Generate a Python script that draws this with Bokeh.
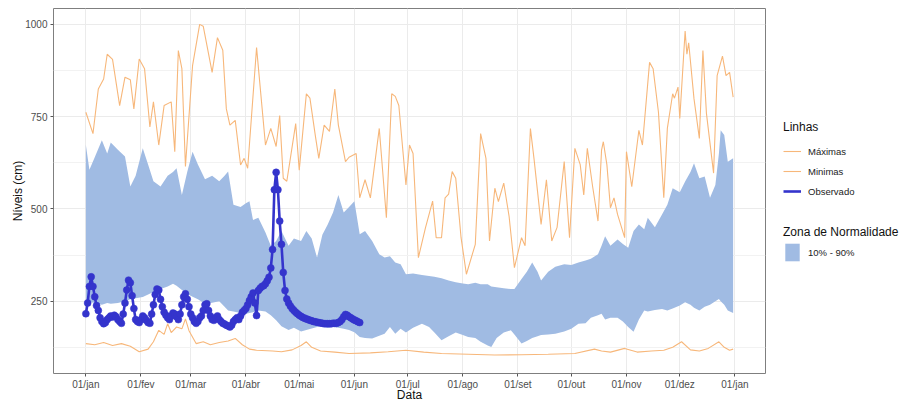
from bokeh.plotting import figure
from bokeh.models import Range1d, FixedTicker, Legend, LegendItem
from bokeh.layouts import row
from bokeh.embed import file_html
from bokeh.resources import INLINE

# ---- axis ticks / labels ----
month_days = [0, 31, 59, 90, 120, 151, 181, 212, 243, 273, 304, 334, 365]
month_labels = ["01/jan", "01/fev", "01/mar", "01/abr", "01/mai", "01/jun",
                "01/jul", "01/ago", "01/set", "01/out", "01/nov", "01/dez", "01/jan"]
y_ticks = [250, 500, 750, 1000]
y_minor = [125, 375, 625, 875]

# ---- normality zone (10% - 90%) ----
band_days = [0, 2, 5, 9, 12, 14, 18, 22, 25, 28,
             32, 35, 38, 42, 46, 49, 51, 54, 57, 60,
             63, 67, 71, 75, 78, 80, 83, 87, 90, 92,
             94, 97, 101, 104, 107, 110, 114, 117, 121, 124,
             127, 130, 133, 136, 139, 142, 145, 148, 151, 154,
             157, 161, 165, 168, 171, 174, 177, 180, 184, 189,
             193, 196, 200, 204, 208, 212, 215, 219, 222, 226,
             228, 231, 235, 239, 241, 245, 248, 251, 254, 256,
             260, 264, 269, 273, 277, 281, 284, 288, 290, 292,
             295, 299, 302, 305, 308, 311, 314, 316, 320, 324,
             327, 330, 334, 337, 340, 342, 345, 348, 351, 354,
             356, 357, 359, 361, 364]
band_hi = [673, 606, 640, 686, 650, 680, 660, 642, 561, 590,
           664, 620, 575, 561, 590, 600, 610, 538, 600, 655,
           620, 580, 590, 575, 590, 601, 511, 505, 515, 521,
           470, 476, 436, 400, 413, 440, 400, 420, 413, 440,
           420, 368, 430, 458, 490, 538, 490, 505, 521, 431,
           440, 413, 377, 368, 372, 355, 350, 323, 325, 321,
           318, 316, 312, 306, 301, 298, 296, 300, 296, 296,
           290, 288, 285, 283, 283, 310, 330, 355, 330, 306,
           330, 343, 350, 348, 355, 360, 365, 377, 400, 426,
           400, 417, 405, 395, 440, 458, 445, 476, 450, 485,
           511, 556, 545, 574, 600, 624, 583, 588, 530, 565,
           650, 713, 700, 628, 637]
band_lo = [250, 248, 245, 240, 245, 243, 245, 250, 255, 258,
           261, 268, 275, 283, 290, 297, 292, 280, 270, 262,
           255, 243, 246, 250, 235, 225, 222, 218, 216, 218,
           220, 225, 222, 212, 198, 182, 172, 178, 168, 172,
           176, 180, 183, 178, 180, 178, 175, 172, 166, 153,
           150, 149, 156, 162, 180, 162, 175, 165, 178, 189,
           180, 165, 144, 155, 165, 158, 153, 150, 140, 130,
           126, 150, 165, 171, 160, 135, 142, 150, 155, 158,
           160, 162, 168, 175, 189, 190, 205, 212, 216, 200,
           205, 205, 195, 180, 167, 200, 225, 222, 226, 229,
           225, 230, 238, 247, 240, 232, 225, 235, 240, 250,
           256, 250, 240, 225, 218]

# ---- historical maxima ----
max_days = [0, 4, 7, 10, 12, 15, 19, 22, 25, 27, 30, 33, 36, 38, 41, 44, 48, 50, 52, 54,
            56, 60, 64, 66, 71, 74, 77, 79, 81, 84, 87, 89, 91, 96, 101, 104, 107, 109, 111, 113,
            115, 118, 120, 124, 126, 129, 131, 134, 137, 140, 142, 146, 148, 152, 154, 157, 160, 165, 169, 172,
            174, 176, 180, 182, 184, 187, 191, 195, 197, 200, 202, 204, 206, 208, 211, 214, 219, 222, 225, 227,
            230, 232, 235, 238, 241, 245, 247, 250, 252, 256, 259, 262, 265, 269, 272, 275, 278, 280, 282, 285,
            288, 290, 291, 293, 295, 297, 299, 303, 304, 307, 311, 313, 317, 319, 322, 325, 327, 330, 331, 333,
            334, 337, 338, 339, 342, 345, 347, 349, 353, 355, 358, 360, 362, 364]
max_vals = [762, 704, 825, 852, 919, 905, 780, 857, 850, 771, 906, 880, 722, 790, 673, 780, 790, 655, 929, 880,
            615, 888, 1000, 995, 870, 964, 930, 771, 727, 740, 619, 637, 610, 937, 673, 718, 669, 753, 583, 575,
            637, 731, 605, 812, 800, 700, 637, 727, 710, 825, 727, 628, 640, 650, 530, 579, 530, 718, 476, 812,
            805, 780, 565, 673, 650, 368, 449, 521, 422, 422, 530, 540, 601, 583, 422, 323, 404, 704, 637, 413,
            556, 520, 570, 480, 341, 422, 400, 718, 637, 458, 579, 413, 450, 628, 422, 664, 620, 538, 664, 560,
            467, 659, 682, 620, 503, 530, 485, 422, 655, 560, 713, 673, 897, 880, 762, 530, 718, 812, 800, 830,
            745, 982, 919, 950, 798, 691, 929, 758, 597, 861, 914, 861, 870, 803]

# ---- historical minima ----
min_days = [0, 5, 10, 15, 20, 25, 30, 35, 38, 41, 44, 46, 48, 51, 54, 56, 58, 62, 66, 70,
            75, 80, 84, 88, 92, 96, 105, 110, 116, 121, 124, 127, 132, 140, 148, 160, 170, 180, 190, 200,
            215, 230, 245, 260, 275, 286, 290, 295, 303, 310, 318, 325, 330, 335, 340, 345, 350, 356, 359, 362,
            364]
min_vals = [135, 132, 138, 130, 135, 128, 113, 120, 140, 171, 160, 189, 165, 180, 175, 202, 170, 135, 140, 132,
            138, 142, 149, 132, 120, 117, 115, 113, 118, 130, 140, 125, 115, 112, 108, 110, 113, 117, 112, 108,
            106, 104, 105, 106, 108, 120, 115, 112, 122, 112, 115, 117, 125, 140, 118, 115, 122, 140, 125, 117,
            120]

# ---- observed (daily, from 01/jan) ----
obs_vals = [216, 245, 290, 316, 290, 262, 238, 225, 205, 195,
            189, 192, 200, 205, 210, 207, 212, 208, 200, 195,
            190, 215, 245, 280, 307, 300, 265, 230, 200, 195,
            192, 200, 210, 205, 198, 192, 190, 215, 240, 268,
            283, 280, 255, 235, 220, 212, 205, 200, 210, 218,
            215, 208, 200, 215, 240, 262, 270, 255, 235, 215,
            205, 195, 190, 195, 205, 210, 225, 240, 243, 225,
            210, 200, 198, 205, 210, 200, 195, 190, 188, 185,
            183, 180, 185, 195, 200, 205, 200, 210, 220, 225,
            230, 240, 252, 262, 272, 245, 211, 279, 285, 290,
            292, 297, 305, 315, 340, 390, 552, 599, 552, 467,
            404, 328, 279, 256, 245, 237, 230, 225, 220, 216,
            212, 209, 206, 204, 202, 200, 198, 197, 195, 194,
            193, 192, 191, 190, 189, 189, 189, 189, 189, 190,
            190, 190, 192, 195, 200, 208, 214, 212, 208, 205,
            202, 199, 197, 194, 192]
obs_days = list(range(len(obs_vals)))

# ---- styles ----
FONT = "Liberation Sans"
BAND = "#A0BBE3"
ORANGE = "#F7B77A"
BLUE = "#3434CC"

p = figure(width=768, height=404, output_backend="svg", toolbar_location=None,
           x_range=Range1d(-18.2, 382.2), y_range=Range1d(54, 1043),
           min_border_left=53, min_border_right=3, min_border_top=8, min_border_bottom=0)
p.background_fill_color = "white"
p.border_fill_color = "white"
p.outline_line_color = "#7F7F7F"
p.outline_line_width = 1

p.varea(x=band_days, y1=band_lo, y2=band_hi, fill_color=BAND, fill_alpha=1)
p.line(max_days, max_vals, line_color=ORANGE, line_width=1.1)
p.line(min_days, min_vals, line_color=ORANGE, line_width=1.1)
p.line(obs_days, obs_vals, line_color=BLUE, line_width=2.6)
p.scatter(obs_days, obs_vals, size=7, fill_color=BLUE, line_color=BLUE, line_width=0.5)

p.xaxis.ticker = FixedTicker(ticks=month_days, minor_ticks=[])
p.xaxis.major_label_overrides = {d: l for d, l in zip(month_days, month_labels)}
p.yaxis.ticker = FixedTicker(ticks=y_ticks, minor_ticks=y_minor)

for ax in (p.xaxis[0], p.yaxis[0]):
    ax.axis_line_color = None
    ax.major_tick_line_color = "#555555"
    ax.major_tick_out = 3
    ax.major_tick_in = 0
    ax.minor_tick_line_color = None
    ax.major_label_text_font = FONT
    ax.major_label_text_font_size = "10px"
    ax.major_label_text_color = "#4D4D4D"
    ax.major_label_standoff = 2
    ax.axis_label_text_font = FONT
    ax.axis_label_text_font_size = "12px"
    ax.axis_label_text_font_style = "normal"
    ax.axis_label_text_color = "#111111"

p.xaxis.axis_label_standoff = -5
p.yaxis.axis_label_standoff = -3
p.xaxis.axis_label = "Data"
p.yaxis.axis_label = "Níveis (cm)"

p.xgrid.grid_line_color = "#EBEBEB"
p.ygrid.grid_line_color = "#EBEBEB"
p.ygrid.minor_grid_line_color = "#F2F2F2"
p.xgrid.grid_line_width = 1
p.ygrid.grid_line_width = 1

# ---- legend panel ----
leg = figure(width=135, height=404, output_backend="svg", toolbar_location=None,
             x_range=Range1d(0, 1), y_range=Range1d(0, 1),
             x_axis_type=None, y_axis_type=None,
             min_border_left=0, min_border_right=0, min_border_top=0, min_border_bottom=0)
leg.outline_line_color = None
leg.grid.visible = False
leg.background_fill_color = "white"
leg.border_fill_color = "white"

# legend key renderers (their data lies outside the visible range)
r_max = leg.line(x=[-10, -9], y=[-10, -9], line_color=ORANGE, line_width=1.1)
r_min = leg.line(x=[-10, -9], y=[-10, -9], line_color=ORANGE, line_width=1.1)
r_obs = leg.line(x=[-10, -9], y=[-10, -9], line_color=BLUE, line_width=2.6)
r_band = leg.varea(x=[-10, -9], y1=[-10, -10], y2=[-9, -9], fill_color=BAND, fill_alpha=1)

def style_legend(lg):
    lg.border_line_color = None
    lg.background_fill_alpha = 0
    lg.padding = 0
    lg.margin = 0
    lg.spacing = 0
    lg.label_standoff = 7
    lg.glyph_width = 18
    lg.label_text_font = FONT
    lg.label_text_font_size = "9.5px"
    lg.label_text_color = "#222222"
    lg.title_text_font = FONT
    lg.title_text_font_size = "12px"
    lg.title_text_font_style = "normal"
    lg.title_text_color = "#111111"

lg1 = Legend(items=[LegendItem(label="Máximas", renderers=[r_max]),
                    LegendItem(label="Minimas", renderers=[r_min]),
                    LegendItem(label="Observado", renderers=[r_obs])],
             title="Linhas", location=(15, 172))
style_legend(lg1)
lg1.glyph_height = 20
lg1.label_height = 20
lg1.title_standoff = 7

lg2 = Legend(items=[LegendItem(label="10% - 90%", renderers=[r_band])],
             title="Zona de Normalidade", location=(15, 110))
style_legend(lg2)
lg2.glyph_height = 22
lg2.label_height = 22
lg2.title_standoff = 2

leg.add_layout(lg1, "center")
leg.add_layout(lg2, "center")

layout = row(p, leg)
open("out.html", "w").write(file_html(layout, INLINE))
